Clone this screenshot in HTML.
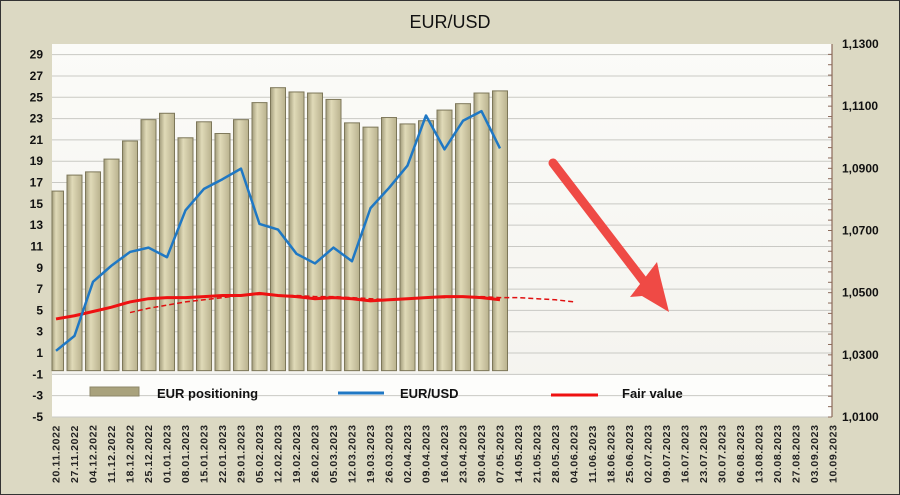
<!DOCTYPE html>
<html><head><meta charset="utf-8"><style>
body{margin:0;background:#dcd9c3;}
svg{display:block;font-family:"Liberation Sans",Verdana,sans-serif;}
</style></head><body>
<svg id="c" width="900" height="495" viewBox="0 0 900 495" xmlns="http://www.w3.org/2000/svg">
<defs>
<linearGradient id="bg" x1="0" x2="1"><stop offset="0" stop-color="#a39d7c"/><stop offset="0.35" stop-color="#e0dab8"/><stop offset="1" stop-color="#b9b28e"/></linearGradient>
<linearGradient id="pg" x1="0" y1="0" x2="0" y2="1"><stop offset="0" stop-color="#fbfbf8"/><stop offset="1" stop-color="#f4f3ee"/></linearGradient>
</defs>
<rect x="0.5" y="0.5" width="899" height="494" fill="#dcd9c3" stroke="#333"/>
<text x="450" y="28" text-anchor="middle" font-size="18" fill="#111">EUR/USD</text>
<rect x="52" y="44" width="780" height="373" fill="url(#pg)"/>
<rect x="52" y="375" width="780" height="42" fill="#fdfdfb"/>
<g id="grid"></g><g id="bars"></g><g id="lines"></g><g id="axes"></g>
<line x1="832" y1="44" x2="832" y2="417" stroke="#8b6a5a" stroke-width="1.2"/>
<g>
<rect x="90" y="387" width="49" height="9" fill="#a9a27c" stroke="#8d8768"/>
<text x="157" y="398" font-size="13" font-weight="bold" fill="#111">EUR positioning</text>
<line x1="338" y1="393" x2="384" y2="393" stroke="#1f78c4" stroke-width="3"/>
<text x="400" y="398" font-size="13" font-weight="bold" fill="#111">EUR/USD</text>
<line x1="551" y1="395" x2="598" y2="395" stroke="#ee1111" stroke-width="3"/>
<text x="622" y="398" font-size="13" font-weight="bold" fill="#111">Fair value</text>
</g>
<g>
<line x1="553" y1="163" x2="645" y2="283" stroke="#ef4a45" stroke-width="9" stroke-linecap="round"/>
<polygon points="669,312 642,296 630,297 657,262 660,276" fill="#ef4a45"/>
</g>
</svg>
<script>
const categories=["20.11.2022","27.11.2022","04.12.2022","11.12.2022","18.12.2022","25.12.2022","01.01.2023","08.01.2023","15.01.2023","22.01.2023","29.01.2023","05.02.2023","12.02.2023","19.02.2023","26.02.2023","05.03.2023","12.03.2023","19.03.2023","26.03.2023","02.04.2023","09.04.2023","16.04.2023","23.04.2023","30.04.2023","07.05.2023","14.05.2023","21.05.2023","28.05.2023","04.06.2023","11.06.2023","18.06.2023","25.06.2023","02.07.2023","09.07.2023","16.07.2023","23.07.2023","30.07.2023","06.08.2023","13.08.2023","20.08.2023","27.08.2023","03.09.2023","10.09.2023"];
const positioning=[16.2,17.7,18.0,19.2,20.9,22.9,23.5,21.2,22.7,21.6,22.9,24.5,25.9,25.5,25.4,24.8,22.6,22.2,23.1,22.5,22.8,23.8,24.4,25.4,25.6];
const eurusd=[1.0313,1.0361,1.0535,1.0587,1.0631,1.0645,1.0614,1.0765,1.0834,1.0865,1.0899,1.0721,1.0703,1.0625,1.0594,1.0645,1.0601,1.0772,1.0837,1.0909,1.1070,1.0961,1.1053,1.1084,1.0964];
const fairValue=[4.2,4.5,4.9,5.3,5.8,6.1,6.2,6.2,6.3,6.4,6.4,6.6,6.4,6.3,6.1,6.2,6.1,5.9,6.0,6.1,6.2,6.3,6.3,6.2,6.0];
const fairDashStart=4;
const fairDashed=[4.8,5.2,5.5,5.8,6.0,6.2,6.4,6.5,6.4,6.4,6.3,6.3,6.2,6.1,6.0,6.1,6.2,6.2,6.3,6.3,6.2,6.2,6.1,6.0,5.8];
const leftTicks=[29,27,25,23,21,19,17,15,13,11,9,7,5,3,1,-1,-3,-5];
const rightTicks=["1,0100","1,0300","1,0500","1,0700","1,0900","1,1100","1,1300"];
const rightTickVals=[1.01,1.03,1.05,1.07,1.09,1.11,1.13];

const NS="http://www.w3.org/2000/svg";
const yL=v=>417-(v+5)*(373/35);
const yR=v=>417-(v-1.01)*(373/0.12);
const xC=i=>56+i*18.5;
function mk(tag,attrs,parent,txt){const e=document.createElementNS(NS,tag);for(const k in attrs)e.setAttribute(k,attrs[k]);if(txt!==undefined)e.textContent=txt;document.getElementById(parent).appendChild(e);return e;}

leftTicks.forEach(t=>{
  const y=yL(t);
  const g=mk('line',{x1:52,x2:832,y1:y,y2:y,stroke:'#c9c9c4','stroke-width':1},'grid');
  
  
  const l=mk('text',{x:43,y:y+4,'text-anchor':'end','font-size':12,'font-weight':'bold',fill:'#111'},'axes',String(t));
  
  
});
rightTickVals.forEach((v,i)=>{
  const y=yR(v);
  const l=mk('text',{x:842,y:y+4,'font-size':12,'font-weight':'bold',fill:'#111'},'axes',rightTicks[i]);
  
  
  if(i<rightTickVals.length-1){for(let k=0;k<6;k++){const m=mk('line',{x1:828,x2:832,y1:y-k*10.36,y2:y-k*10.36,stroke:'#8b6a5a'},'axes');}}
});
categories.forEach((c,i)=>{
  const x=xC(i)+3.5;
  const t=mk('text',{x:0,y:0,transform:`translate(${x},483) rotate(-90)`,'font-size':10.5,'font-weight':'bold','letter-spacing':0.6,fill:'#222'},'axes',c);
  
  
});
const base=yL(-0.65);
positioning.forEach((v,i)=>{
  let x0=xC(i)-7.5,x1=xC(i)+7.5;if(x0<52)x0=52;
  const r=mk('rect',{x:x0,y:yL(v),width:x1-x0,height:base-yL(v),fill:'url(#bg)',stroke:'#7d7759','stroke-width':1},'bars');
  
  
});
function poly(vals,fx,fy,off){return vals.map((v,i)=>Math.max(52,fx(i+off))+','+fy(v)).join(' ');}
const d=mk('polyline',{points:poly(fairDashed,xC,yL,fairDashStart),fill:'none',stroke:'#e01010','stroke-width':1.5,'stroke-dasharray':'5,3'},'lines');


const f=mk('polyline',{points:poly(fairValue,xC,yL,0),fill:'none',stroke:'#ee1111','stroke-width':3},'lines');


const e=mk('polyline',{points:poly(eurusd,xC,yR,0),fill:'none',stroke:'#1f78c4','stroke-width':2.5,'stroke-linejoin':'round'},'lines');


</script>
</body></html>
